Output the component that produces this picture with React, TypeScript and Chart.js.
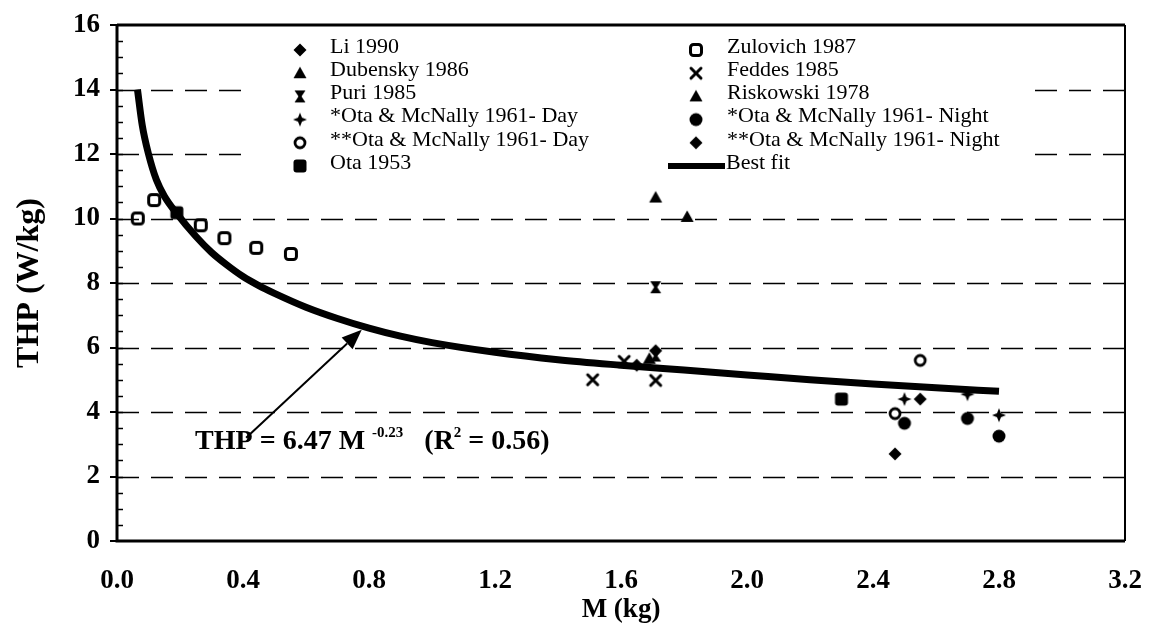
import React, { useEffect, useRef } from 'react';
import { Chart, registerables } from 'chart.js';

Chart.register(...registerables);

// ---- axis ticks ----
const xTickValues = [0.0, 0.4, 0.8, 1.2, 1.6, 2.0, 2.4, 2.8, 3.2];
const yTickValues = [0, 2, 4, 6, 8, 10, 12, 14, 16];

// ---- series (M in kg, THP in W/kg) ----
const liM = [1.65, 1.71];
const liTHP = [5.45, 5.9];

const zulovichM = [0.066, 0.118, 0.266, 0.341, 0.442, 0.552];
const zulovichTHP = [10.0, 10.57, 9.79, 9.39, 9.09, 8.9];

const dubenskyM = [1.71, 1.69];
const dubenskyTHP = [10.65, 5.65];

const feddesM = [1.51, 1.71, 1.61];
const feddesTHP = [5.0, 4.98, 5.57];

const puriM = [1.71, 1.71];
const puriTHP = [7.87, 5.75];

const riskowskiM = [1.81];
const riskowskiTHP = [10.05];

const otaDay1M = [2.5, 2.7, 2.8];
const otaDay1THP = [4.4, 4.55, 3.9];

const otaNight1M = [2.5, 2.7, 2.8];
const otaNight1THP = [3.65, 3.8, 3.25];

const otaDay2M = [2.47, 2.55];
const otaDay2THP = [3.95, 5.6];

const otaNight2M = [2.47, 2.55];
const otaNight2THP = [2.7, 4.4];

const ota1953M = [0.19, 2.3];
const ota1953THP = [10.18, 4.4];

const fitM = [0.065, 0.08, 0.1, 0.125, 0.15, 0.19, 0.25, 0.3, 0.35, 0.4, 0.45, 0.5, 0.6, 0.7, 0.8, 0.9, 1.0, 1.2, 1.4, 1.6, 1.8, 2.0, 2.2, 2.4, 2.6, 2.8];
const fitTHP = [14.0, 12.9, 12.0, 11.2, 10.7, 10.15, 9.45, 8.95, 8.55, 8.2, 7.92, 7.68, 7.25, 6.9, 6.6, 6.35, 6.15, 5.85, 5.62, 5.45, 5.3, 5.15, 5.0, 4.87, 4.75, 4.64];

const FONT = "'Liberation Serif', 'Times New Roman', serif";

function pts(xs: number[], ys: number[]) {
  return xs.map((x, i) => ({ x, y: ys[i] }));
}

function makeMarker(kind: string): HTMLCanvasElement {
  const s = 20;
  const c = document.createElement('canvas');
  c.width = s;
  c.height = s;
  const g = c.getContext('2d') as CanvasRenderingContext2D;
  g.translate(s / 2, s / 2);
  g.fillStyle = '#000';
  g.strokeStyle = '#000';
  g.lineJoin = 'round';
  g.beginPath();
  switch (kind) {
    case 'diamond':
      g.moveTo(0, -6.5); g.lineTo(6.5, 0); g.lineTo(0, 6.5); g.lineTo(-6.5, 0); g.closePath(); g.fill();
      break;
    case 'openSquare':
      g.roundRect(-5.5, -5.5, 11, 11, 3); g.lineWidth = 3; g.stroke();
      break;
    case 'triangle':
      g.moveTo(0, -6.5); g.lineTo(6.5, 5); g.lineTo(-6.5, 5); g.closePath(); g.fill();
      break;
    case 'x':
      g.lineWidth = 3; g.lineCap = 'round';
      g.moveTo(-5, -5); g.lineTo(5, 5); g.moveTo(5, -5); g.lineTo(-5, 5); g.stroke();
      break;
    case 'hourglass':
      g.moveTo(-5.5, -6); g.lineTo(5.5, -6); g.lineTo(1.5, 0); g.lineTo(5.5, 6); g.lineTo(-5.5, 6); g.lineTo(-1.5, 0); g.closePath(); g.fill();
      break;
    case 'star':
      g.moveTo(0, -7); g.lineTo(2, -2); g.lineTo(7, 0); g.lineTo(2, 2); g.lineTo(0, 7); g.lineTo(-2, 2); g.lineTo(-7, 0); g.lineTo(-2, -2); g.closePath(); g.fill();
      break;
    case 'openCircle':
      g.arc(0, 0, 5, 0, Math.PI * 2); g.lineWidth = 2.8; g.stroke();
      break;
    case 'circle':
      g.arc(0, 0, 6.5, 0, Math.PI * 2); g.fill();
      break;
    case 'square':
      g.roundRect(-6.5, -6.5, 13, 13, 3); g.fill();
      break;
  }
  return c;
}

export default function App() {
  const ref = useRef<HTMLCanvasElement | null>(null);

  useEffect(() => {
    const canvas = ref.current;
    if (!canvas) return;

    const mk: Record<string, HTMLCanvasElement> = {};
    ['diamond', 'openSquare', 'triangle', 'x', 'hourglass', 'star', 'openCircle', 'circle', 'square'].forEach(
      (k) => (mk[k] = makeMarker(k))
    );

    const series = [
      { label: 'Li 1990', m: 'diamond', xs: liM, ys: liTHP },
      { label: 'Zulovich 1987', m: 'openSquare', xs: zulovichM, ys: zulovichTHP },
      { label: 'Dubensky 1986', m: 'triangle', xs: dubenskyM, ys: dubenskyTHP },
      { label: 'Feddes 1985', m: 'x', xs: feddesM, ys: feddesTHP },
      { label: 'Puri 1985', m: 'hourglass', xs: puriM, ys: puriTHP },
      { label: 'Riskowski 1978', m: 'triangle', xs: riskowskiM, ys: riskowskiTHP },
      { label: '*Ota & McNally 1961- Day', m: 'star', xs: otaDay1M, ys: otaDay1THP },
      { label: '*Ota & McNally 1961- Night', m: 'circle', xs: otaNight1M, ys: otaNight1THP },
      { label: '**Ota & McNally 1961- Day', m: 'openCircle', xs: otaDay2M, ys: otaDay2THP },
      { label: '**Ota & McNally 1961- Night', m: 'diamond', xs: otaNight2M, ys: otaNight2THP },
      { label: 'Ota 1953', m: 'square', xs: ota1953M, ys: ota1953THP },
    ];

    const datasets: any[] = series.map((s) => ({
      type: 'scatter',
      label: s.label,
      data: pts(s.xs, s.ys),
      pointStyle: mk[s.m],
      pointRadius: 6,
      showLine: false,
    }));
    datasets.push({
      type: 'line',
      label: 'Best fit',
      data: pts(fitM, fitTHP),
      borderColor: '#000',
      borderWidth: 7,
      pointRadius: 0,
      showLine: true,
      fill: false,
      cubicInterpolationMode: 'monotone',
    });

    const legendLeft = [
      ['Li 1990', 'diamond'],
      ['Dubensky 1986', 'triangle'],
      ['Puri 1985', 'hourglass'],
      ['*Ota & McNally 1961- Day', 'star'],
      ['**Ota & McNally 1961- Day', 'openCircle'],
      ['Ota 1953', 'square'],
    ];
    const legendRight = [
      ['Zulovich 1987', 'openSquare'],
      ['Feddes 1985', 'x'],
      ['Riskowski 1978', 'triangle'],
      ['*Ota & McNally 1961- Night', 'circle'],
      ['**Ota & McNally 1961- Night', 'diamond'],
      ['Best fit', 'line'],
    ];

    const decor = {
      id: 'decor',
      beforeDatasetsDraw(chart: any) {
        const { ctx, chartArea: a, scales } = chart;
        const y = scales.y;
        ctx.save();
        // dashed grid lines
        ctx.strokeStyle = '#000';
        ctx.lineWidth = 1.6;
        ctx.setLineDash([22, 12]);
        for (const v of yTickValues) {
          if (v === 0 || v === 16) continue;
          const py = Math.round(y.getPixelForValue(v)) + 0.5;
          ctx.beginPath();
          ctx.moveTo(a.left, py);
          ctx.lineTo(a.right, py);
          ctx.stroke();
        }
        ctx.setLineDash([]);
        // minor ticks inside y axis
        ctx.lineWidth = 1.5;
        for (let v = 0.5; v < 16; v += 0.5) {
          const py = Math.round(y.getPixelForValue(v)) + 0.5;
          ctx.beginPath();
          ctx.moveTo(a.left, py);
          ctx.lineTo(a.left + 6, py);
          ctx.stroke();
        }
        // legend box
        ctx.fillStyle = '#fff';
        ctx.fillRect(252, 30, 776, 146);
        ctx.fillStyle = '#000';
        ctx.font = `22px ${FONT}`;
        ctx.textBaseline = 'middle';
        ctx.textAlign = 'left';
        const rowY = (i: number) => 47 + i * 23.2;
        legendLeft.forEach(([label, m], i) => {
          const cy = rowY(i);
          const img = mk[m];
          ctx.drawImage(img, 300 - img.width / 2, cy + 3 - img.height / 2);
          ctx.fillText(label, 330, cy);
        });
        legendRight.forEach(([label, m], i) => {
          const cy = rowY(i);
          if (m === 'line') {
            ctx.lineWidth = 6;
            ctx.beginPath();
            ctx.moveTo(668, cy + 3);
            ctx.lineTo(725, cy + 3);
            ctx.stroke();
            ctx.fillText(label, 726, cy);
          } else {
            const img = mk[m];
            ctx.drawImage(img, 696 - img.width / 2, cy + 3 - img.height / 2);
            ctx.fillText(label, 727, cy);
          }
        });
        ctx.restore();
      },
      afterDatasetsDraw(chart: any) {
        const { ctx, chartArea: a, scales } = chart;
        const x = scales.x;
        const y = scales.y;
        ctx.save();
        // frame
        ctx.strokeStyle = '#000';
        ctx.lineWidth = 3;
        ctx.beginPath();
        ctx.moveTo(a.left, a.top);
        ctx.lineTo(a.left, a.bottom);
        ctx.lineTo(a.right, a.bottom);
        ctx.moveTo(a.left, a.top);
        ctx.lineTo(a.right, a.top);
        ctx.stroke();
        ctx.lineWidth = 2;
        ctx.beginPath();
        ctx.moveTo(a.right, a.top);
        ctx.lineTo(a.right, a.bottom);
        ctx.stroke();

        // arrow
        const x0 = x.getPixelForValue(0.41), y0 = y.getPixelForValue(3.2);
        const x1 = x.getPixelForValue(0.777), y1 = y.getPixelForValue(6.55);
        const ang = Math.atan2(y1 - y0, x1 - x0);
        const hl = 20, hw = 8;
        const bx = x1 - hl * Math.cos(ang), by = y1 - hl * Math.sin(ang);
        ctx.lineWidth = 2;
        ctx.beginPath();
        ctx.moveTo(x0, y0);
        ctx.lineTo(bx, by);
        ctx.stroke();
        ctx.fillStyle = '#000';
        ctx.beginPath();
        ctx.moveTo(x1, y1);
        ctx.lineTo(bx + hw * Math.sin(ang), by - hw * Math.cos(ang));
        ctx.lineTo(bx - hw * Math.sin(ang), by + hw * Math.cos(ang));
        ctx.closePath();
        ctx.fill();

        // equation text
        let tx = x.getPixelForValue(0.248);
        const ty = y.getPixelForValue(2.85);
        ctx.textBaseline = 'alphabetic';
        ctx.textAlign = 'left';
        const big = `bold 28px ${FONT}`;
        const small = `bold 15px ${FONT}`;
        const parts: [string, string, number][] = [
          ['THP = 6.47 M ', big, 0],
          ['-0.23', small, -12],
          ['   (R', big, 0],
          ['2', small, -12],
          [' = 0.56)', big, 0],
        ];
        for (const [t, f, dy] of parts) {
          ctx.font = f;
          ctx.fillText(t, tx, ty + dy);
          tx += ctx.measureText(t).width;
        }
        ctx.restore();
      },
    };

    const tickFont = { family: FONT, size: 27, weight: 'bold' as const };

    const chart = new Chart(canvas, {
      type: 'scatter',
      data: { datasets },
      options: {
        animation: false,
        responsive: false,
        events: [],
        layout: { padding: { left: 0, right: 27, top: 25, bottom: 0 } },
        plugins: { legend: { display: false }, tooltip: { enabled: false } },
        scales: {
          x: {
            type: 'linear',
            min: 0,
            max: 3.2,
            afterBuildTicks: (s: any) => {
              s.ticks = xTickValues.map((v) => ({ value: v }));
            },
            afterFit: (s: any) => {
              s.height = 90;
              s.paddingLeft = 0;
              s.paddingRight = 0;
            },
            grid: { display: false },
            border: { display: false },
            ticks: {
              color: '#000',
              font: tickFont,
              padding: 16,
              maxRotation: 0,
              autoSkip: false,
              callback: (v: any) => Number(v).toFixed(1),
            },
            title: {
              display: true,
              text: 'M (kg)',
              color: '#000',
              font: tickFont,
              padding: { top: 0, bottom: 5 },
            },
          },
          y: {
            type: 'linear',
            min: 0,
            max: 16,
            afterBuildTicks: (s: any) => {
              s.ticks = yTickValues.map((v) => ({ value: v }));
            },
            afterFit: (s: any) => {
              s.width = 117;
              s.paddingTop = 0;
              s.paddingBottom = 0;
            },
            grid: {
              display: true,
              drawOnChartArea: false,
              drawTicks: true,
              tickLength: 7,
              color: '#000',
              lineWidth: 2,
            },
            border: { display: false },
            ticks: {
              color: '#000',
              font: tickFont,
              padding: 10,
              autoSkip: false,
              callback: (v: any) => String(v),
            },
            title: {
              display: true,
              text: 'THP (W/kg)',
              color: '#000',
              font: { family: FONT, size: 32, weight: 'bold' as const },
              padding: { top: 11, bottom: 0 },
            },
          },
        },
      },
      plugins: [decor],
    } as any);

    return () => chart.destroy();
  }, []);

  return (
    <div style={{ position: 'fixed', left: 0, top: 0, width: 1152, height: 631, background: '#fff' }}>
      <canvas ref={ref} width={1152} height={631} style={{ display: 'block' }} />
    </div>
  );
}
